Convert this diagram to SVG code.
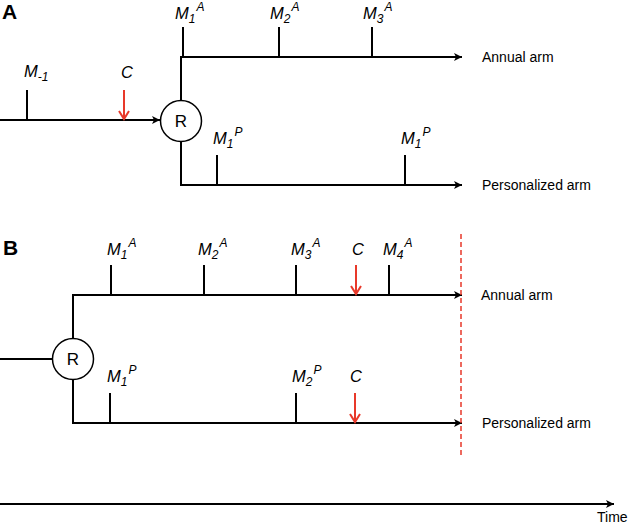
<svg xmlns="http://www.w3.org/2000/svg" width="628" height="528" viewBox="0 0 628 528">
<style>
.ln{stroke:#000;stroke-width:2;fill:none}
.tk{stroke:#000;stroke-width:2}
.rd{stroke:#e8392a;stroke-width:2;fill:none}
.m{font-family:"Liberation Sans",Arial,sans-serif;font-style:italic;font-size:16.5px;fill:#000}
.s{font-size:12px}
.lab{font-family:"Liberation Sans",Arial,sans-serif;font-size:14px;fill:#000}
.pl{font-family:"Liberation Sans",Arial,sans-serif;font-size:21px;font-weight:bold;fill:#000}
.c{fill:#fff;stroke:#000;stroke-width:1.5}
.r{font-family:"Liberation Sans",Arial,sans-serif;font-size:17px;fill:#000;text-anchor:middle}
.mc{font-family:"Liberation Sans",Arial,sans-serif;font-style:italic;font-size:16.5px;fill:#000}
</style>
<defs>
<marker id="ah" markerWidth="10" markerHeight="10" refX="9" refY="5" orient="auto" markerUnits="userSpaceOnUse">
<path d="M1,1 L9,5 L1,9 L3,5 Z" fill="#000"/>
</marker>
<marker id="rh" markerWidth="12" markerHeight="12" refX="10" refY="6" orient="auto" markerUnits="userSpaceOnUse">
<path d="M2,1 L10,6 L2,11" fill="none" stroke="#e8392a" stroke-width="2"/>
</marker>
</defs>

<text class="pl" x="2" y="19">A</text>
<text class="pl" x="3" y="255">B</text>

<g id="connectors">
<!-- Panel A -->
<line class="ln" x1="0" y1="120" x2="160" y2="120" marker-end="url(#ah)"/>
<polyline class="ln" points="181,100 181,57 462,57" marker-end="url(#ah)"/>
<polyline class="ln" points="181,142 181,185 462,185" marker-end="url(#ah)"/>
<line class="tk" x1="27" y1="90" x2="27" y2="120"/>
<line class="rd" x1="124" y1="90" x2="124" y2="119" marker-end="url(#rh)"/>
<line class="tk" x1="183" y1="27" x2="183" y2="57"/>
<line class="tk" x1="279" y1="27" x2="279" y2="57"/>
<line class="tk" x1="372" y1="27" x2="372" y2="57"/>
<line class="tk" x1="217" y1="155" x2="217" y2="185"/>
<line class="tk" x1="405" y1="155" x2="405" y2="185"/>
<!-- Panel B -->
<line class="ln" x1="0" y1="359" x2="52" y2="359"/>
<polyline class="ln" points="73,338 73,295 462,295" marker-end="url(#ah)"/>
<polyline class="ln" points="73,380 73,423 462,423" marker-end="url(#ah)"/>
<line class="tk" x1="111" y1="265" x2="111" y2="295"/>
<line class="tk" x1="204" y1="265" x2="204" y2="295"/>
<line class="tk" x1="296" y1="265" x2="296" y2="295"/>
<line class="tk" x1="389" y1="265" x2="389" y2="295"/>
<line class="rd" x1="356" y1="265" x2="356" y2="294" marker-end="url(#rh)"/>
<line class="tk" x1="110" y1="393" x2="110" y2="423"/>
<line class="tk" x1="296" y1="393" x2="296" y2="423"/>
<line class="rd" x1="355" y1="393" x2="355" y2="422" marker-end="url(#rh)"/>
<line x1="461" y1="234" x2="461" y2="458" stroke="#e8392a" stroke-width="1.5" stroke-dasharray="5,3"/>
<line class="ln" x1="0" y1="504" x2="614" y2="504" marker-end="url(#ah)"/>
</g>

<g id="nodeRA"><circle class="c" cx="181" cy="121" r="20.5"/><text class="r" x="181" y="127">R</text></g>
<g id="nodeRB"><circle class="c" cx="73" cy="359" r="20.5"/><text class="r" x="73" y="365">R</text></g>

<g id="labelsA">
<text class="m" x="24" y="77">M<tspan class="s" dy="4">-1</tspan></text>
<text class="mc" x="121" y="78">C</text>
<text class="m" x="175" y="19">M<tspan class="s" dy="4">1</tspan><tspan class="s" dx="1" dy="-12">A</tspan></text>
<text class="m" x="270" y="19">M<tspan class="s" dy="4">2</tspan><tspan class="s" dx="1" dy="-12">A</tspan></text>
<text class="m" x="363" y="19">M<tspan class="s" dy="4">3</tspan><tspan class="s" dx="1" dy="-12">A</tspan></text>
<text class="m" x="213" y="144">M<tspan class="s" dy="4">1</tspan><tspan class="s" dx="1" dy="-12">P</tspan></text>
<text class="m" x="401" y="144">M<tspan class="s" dy="4">1</tspan><tspan class="s" dx="1" dy="-12">P</tspan></text>
<text class="lab" x="482" y="62">Annual arm</text>
<text class="lab" x="482" y="190">Personalized arm</text>
</g>

<g id="labelsB">
<text class="m" x="107" y="255">M<tspan class="s" dy="4">1</tspan><tspan class="s" dx="1" dy="-12">A</tspan></text>
<text class="m" x="198" y="255">M<tspan class="s" dy="4">2</tspan><tspan class="s" dx="1" dy="-12">A</tspan></text>
<text class="m" x="291" y="255">M<tspan class="s" dy="4">3</tspan><tspan class="s" dx="1" dy="-12">A</tspan></text>
<text class="mc" x="352" y="255">C</text>
<text class="m" x="383" y="255">M<tspan class="s" dy="4">4</tspan><tspan class="s" dx="1" dy="-12">A</tspan></text>
<text class="m" x="107" y="382">M<tspan class="s" dy="4">1</tspan><tspan class="s" dx="1" dy="-12">P</tspan></text>
<text class="m" x="292" y="382">M<tspan class="s" dy="4">2</tspan><tspan class="s" dx="1" dy="-12">P</tspan></text>
<text class="mc" x="350" y="382">C</text>
<text class="lab" x="481" y="300">Annual arm</text>
<text class="lab" x="482" y="428">Personalized arm</text>
<text class="lab" x="597" y="522">Time</text>
</g>
</svg>
